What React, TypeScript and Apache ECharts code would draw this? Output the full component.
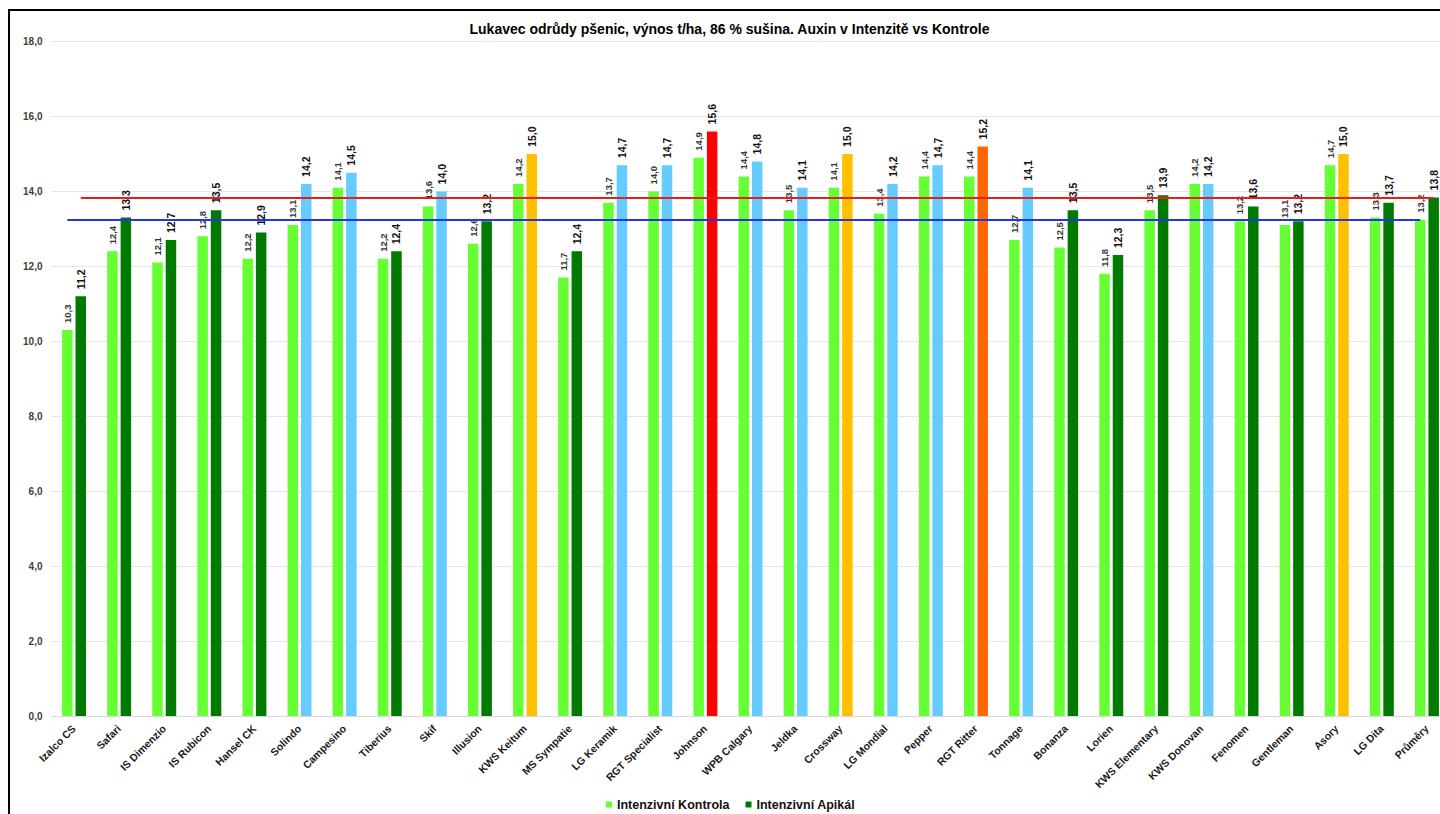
import React, { useEffect, useRef } from "react";
import * as echarts from "echarts";

const categories = [
  "Izalco CS", "Safari", "IS Dimenzio", "IS Rubicon", "Hansel CK", "Solindo", "Campesino", "Tiberius",
  "Skif", "Illusion", "KWS Keitum", "MS Sympatie", "LG Keramik", "RGT Specialist", "Johnson", "WPB Calgary",
  "Jeldka", "Crossway", "LG Mondial", "Pepper", "RGT Ritter", "Tonnage", "Bonanza", "Lorien",
  "KWS Elementary", "KWS Donovan", "Fenomen", "Gentleman", "Asory", "LG Dita", "Průměry",
];

const kontrola = [
  10.3, 12.4, 12.1, 12.8, 12.2, 13.1, 14.1, 12.2, 13.6, 12.6, 14.2, 11.7, 13.7, 14.0, 14.9, 14.4,
  13.5, 14.1, 13.4, 14.4, 14.4, 12.7, 12.5, 11.8, 13.5, 14.2, 13.2, 13.1, 14.7, 13.3, 13.24,
];

const apikal = [
  11.2, 13.3, 12.7, 13.5, 12.9, 14.2, 14.5, 12.4, 14.0, 13.2, 15.0, 12.4, 14.7, 14.7, 15.6, 14.8,
  14.1, 15.0, 14.2, 14.7, 15.2, 14.1, 13.5, 12.3, 13.9, 14.2, 13.6, 13.2, 15.0, 13.7, 13.84,
];

// colour group of each Apikál bar
const apikalGroup = [
  "dark", "dark", "dark", "dark", "dark", "blue", "blue", "dark", "blue", "dark", "gold", "dark", "blue", "blue", "red", "blue",
  "blue", "gold", "blue", "blue", "orange", "blue", "dark", "dark", "dark", "blue", "dark", "dark", "gold", "dark", "dark",
];

const averageKontrola = 13.24;
const averageApikal = 13.84;

const yTicks = { min: 0, max: 18, interval: 2 };

const COLORS: Record<string, string> = {
  light: "#66FF33",
  dark: "#007A00",
  blue: "#66CCFF",
  gold: "#FFC000",
  red: "#FF0000",
  orange: "#FF6600",
};

const FONT = "'Liberation Sans', Arial, sans-serif";

const fmt = (v: number) => v.toFixed(1).replace(".", ",");

export default function App() {
  const ref = useRef<HTMLDivElement>(null);

  useEffect(() => {
    if (!ref.current) return;
    const chart = echarts.init(ref.current, undefined, { renderer: "svg" });
    const last = categories[categories.length - 1];
    chart.setOption({
      animation: false,
      backgroundColor: "#ffffff",
      textStyle: { fontFamily: FONT },
      graphic: [
        {
          type: "rect",
          z: 0,
          shape: { x: 9, y: 10, width: 1520, height: 900 },
          style: { fill: "none", stroke: "#000", lineWidth: 2 },
          silent: true,
        },
        {
          type: "text",
          z: 10,
          style: {
            text: "Lukavec odrůdy pšenic, výnos t/ha, 86 % sušina. Auxin v Intenzitě vs Kontrole",
            x: 729.5,
            y: 29,
            align: "center",
            verticalAlign: "middle",
            fontSize: 14,
            fontWeight: "bold",
            fontFamily: FONT,
            fill: "#000",
          },
        },
      ],
      legend: {
        left: 601,
        top: 793,
        icon: "rect",
        itemWidth: 6,
        itemHeight: 6,
        itemGap: 16,
        textStyle: { fontSize: 12.5, fontWeight: "bold", color: "#111", fontFamily: FONT },
        data: ["Intenzivní Kontrola", "Intenzivní Apikál"],
      },
      grid: { left: 51.5, top: 41.5, width: 1398, height: 674.5, containLabel: false },
      xAxis: {
        type: "category",
        data: categories,
        axisLine: { show: true, lineStyle: { color: "#d9d9d9", width: 1 } },
        axisTick: { show: false },
        axisLabel: {
          interval: 0,
          rotate: 45,
          margin: 11,
          fontSize: 10.5,
          fontWeight: "bold",
          color: "#1a1a1a",
          fontFamily: FONT,
        },
      },
      yAxis: {
        type: "value",
        min: yTicks.min,
        max: yTicks.max,
        interval: yTicks.interval,
        axisLine: { show: false },
        axisTick: { show: false },
        splitLine: { lineStyle: { color: "#e6e6e6", width: 1 } },
        axisLabel: {
          formatter: (v: number) => fmt(v),
          fontSize: 10,
          fontWeight: "bold",
          color: "#404040",
          margin: 9,
          fontFamily: FONT,
        },
      },
      series: [
        {
          name: "Intenzivní Kontrola",
          type: "bar",
          data: kontrola,
          barWidth: 10.5,
          barGap: "28%",
          itemStyle: { color: COLORS.light },
          label: {
            show: true,
            position: "top",
            rotate: 90,
            align: "left",
            verticalAlign: "middle",
            distance: 7,
            fontSize: 9.5,
            fontWeight: "bold",
            color: "#333",
            fontFamily: FONT,
            formatter: (p: any) => fmt(p.value),
          },
          markLine: {
            silent: true,
            symbol: "none",
            label: { show: false },
            lineStyle: { color: "#2633E6", width: 2, type: "solid" },
            data: [[{ coord: [categories[0], averageKontrola] }, { coord: [last, averageKontrola] }]],
          },
        },
        {
          name: "Intenzivní Apikál",
          type: "bar",
          data: apikal.map((v, i) => ({ value: v, itemStyle: { color: COLORS[apikalGroup[i]] } })),
          barWidth: 10.5,
          barGap: "28%",
          itemStyle: { color: COLORS.dark },
          label: {
            show: true,
            position: "top",
            rotate: 90,
            align: "left",
            verticalAlign: "middle",
            distance: 7,
            fontSize: 10.5,
            fontWeight: "bold",
            color: "#111",
            fontFamily: FONT,
            formatter: (p: any) => fmt(p.value),
          },
          markLine: {
            silent: true,
            symbol: "none",
            label: { show: false },
            lineStyle: { color: "#E61E1E", width: 2, type: "solid" },
            data: [[{ coord: [categories[0], averageApikal] }, { coord: [last, averageApikal] }]],
          },
        },
      ],
    });
    return () => chart.dispose();
  }, []);

  return (
    <div
      style={{
        position: "fixed",
        left: 0,
        top: 0,
        width: 1440,
        height: 814,
        overflow: "hidden",
        background: "#fff",
      }}
    >
      <div ref={ref} style={{ width: 1480, height: 814 }} />
    </div>
  );
}
